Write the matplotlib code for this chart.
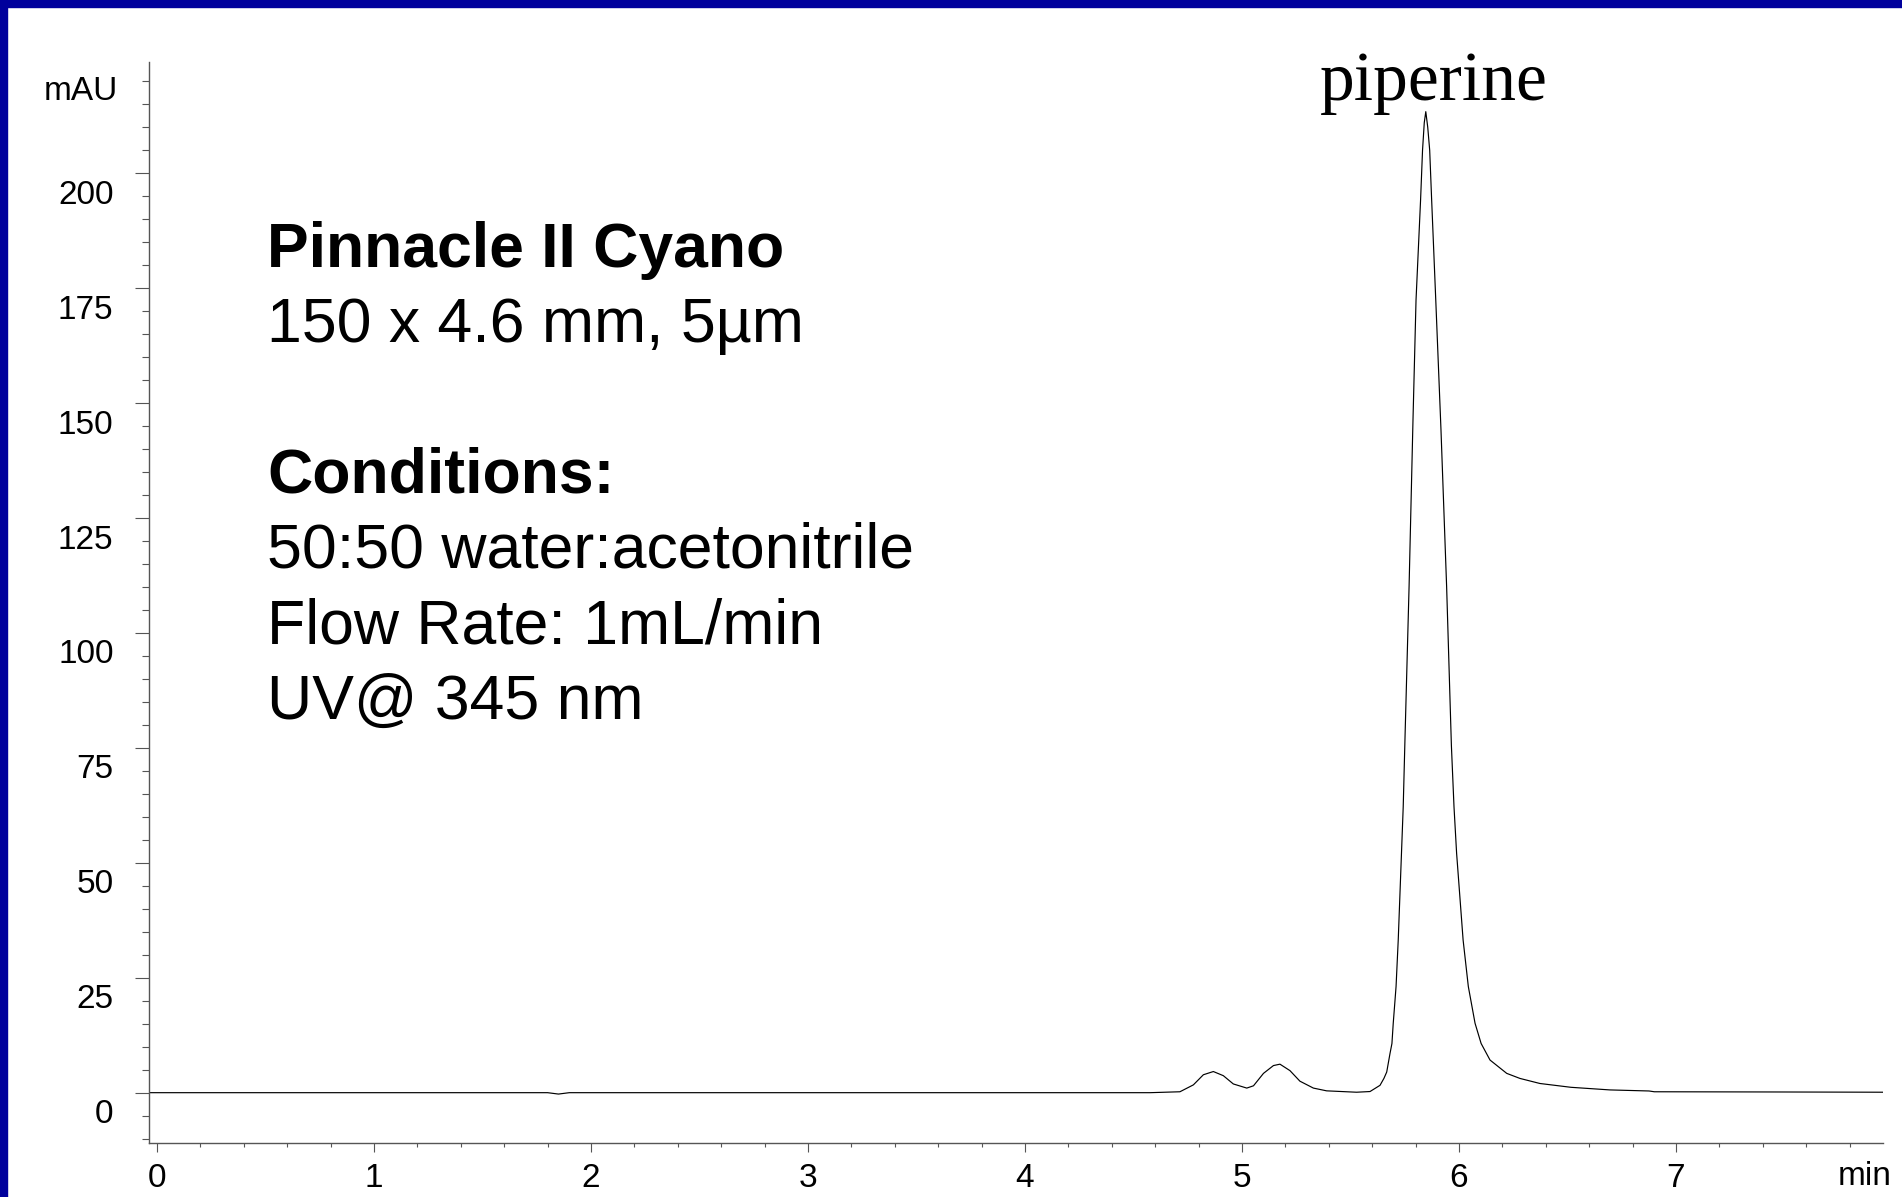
import matplotlib
matplotlib.use('Agg')
import matplotlib.pyplot as plt
from matplotlib.ticker import MultipleLocator
from matplotlib.patches import Rectangle
from matplotlib.transforms import ScaledTranslation

plt.rcParams['font.family'] = 'Liberation Sans'

# chromatogram trace (time in min, signal in mAU)
time_min = [-0.04, 1.00, 1.80, 1.85, 1.90, 3.00, 4.576, 4.714, 4.776, 4.822, 4.868,
            4.914, 4.960, 5.022, 5.053, 5.099, 5.145, 5.175, 5.221, 5.267, 5.329,
            5.390, 5.528, 5.590, 5.636, 5.654, 5.667, 5.682, 5.691, 5.697, 5.705,
            5.710, 5.720, 5.743, 5.751, 5.770, 5.788, 5.802, 5.823, 5.832, 5.840,
            5.847, 5.856, 5.865, 5.874, 5.893, 5.917, 5.943, 5.965, 5.977, 5.989,
            6.019, 6.043, 6.074, 6.102, 6.143, 6.220, 6.281, 6.373, 6.516, 6.696,
            6.876, 6.90, 7.50, 7.954]
signal_mau = [0.0, 0.0, 0.0, -0.3, 0.0, 0.0, 0.0, 0.2, 1.7, 3.9, 4.6,
              3.7, 1.9, 1.0, 1.5, 4.2, 5.9, 6.2, 4.8, 2.5, 1.0,
              0.4, 0.1, 0.25, 1.6, 3.1, 4.5, 8.5, 10.7, 15.1, 20.0,
              23.1, 33.2, 62.2, 76.8, 110.1, 146.3, 172.4, 194.2, 205.0, 211.0,
              213.4, 210.0, 205.0, 194.2, 172.4, 144.2, 110.1, 75.5, 62.2, 52.1,
              33.2, 23.1, 15.1, 10.7, 7.1, 4.2, 3.1, 2.0, 1.17, 0.6,
              0.37, 0.2, 0.15, 0.1]

y_major = [0, 25, 50, 75, 100, 125, 150, 175, 200]
x_major = [0, 1, 2, 3, 4, 5, 6, 7]
peak_name = 'piperine'
info_lines = [('Pinnacle II Cyano', 'bold'), ('150 x 4.6 mm, 5µm', 'normal'),
              ('', 'normal'), ('Conditions:', 'bold'),
              ('50:50 water:acetonitrile', 'normal'), ('Flow Rate: 1mL/min', 'normal'),
              ('UV@ 345 nm', 'normal')]

W, H = 1902, 1197
fig = plt.figure(figsize=(W / 100, H / 100), dpi=100)
ax = fig.add_axes([149 / W, (H - 1142.7) / H, (1883 - 149) / W, (1142.7 - 62) / H])

# blue slide frame (top and left)
fig.add_artist(Rectangle((0, 1 - 7 / H), 1, 7 / H, transform=fig.transFigure,
                         color='#00009c', zorder=10))
fig.add_artist(Rectangle((0, 0), 7 / W, 1, transform=fig.transFigure,
                         color='#00009c', zorder=10))

ax.plot(time_min, signal_mau, color='black', lw=0.85)

ax.set_xlim(-0.0369, 7.954)
ax.set_ylim(-10.88, 224.2)

for s in ['top', 'right']:
    ax.spines[s].set_visible(False)
for s in ['left', 'bottom']:
    ax.spines[s].set_color('#555555')
    ax.spines[s].set_linewidth(1.0)

ax.set_xticks(x_major)
ax.set_xticklabels([str(v) for v in x_major])
ax.xaxis.set_minor_locator(MultipleLocator(0.2))
ax.set_yticks(y_major)
ax.set_yticklabels([str(v) for v in y_major])
ax.yaxis.set_minor_locator(MultipleLocator(5))

ax.tick_params(axis='x', which='major', length=6.5, width=0.8, color='#555555',
               labelsize=24, pad=8)
ax.tick_params(axis='x', which='minor', length=3, width=0.8, color='#555555')
ax.tick_params(axis='y', which='major', length=10, width=0.8, color='#555555',
               labelsize=24, pad=15.5)
ax.tick_params(axis='y', which='minor', length=4.7, width=0.8, color='#555555')

# y labels sit a bit below their ticks in the original
shift = ScaledTranslation(0, -18.5 / 100, fig.dpi_scale_trans)
for lab in ax.get_yticklabels():
    lab.set_transform(lab.get_transform() + shift)

ax.text(-0.0179, 0.9648, 'mAU', transform=ax.transAxes, ha='right', va='baseline',
        fontsize=24)
ax.text(1.0052, -0.0391, 'min', transform=ax.transAxes, ha='right', va='baseline',
        fontsize=24)

# peak label above the apex
i_max = signal_mau.index(max(signal_mau))
ax.text(time_min[i_max] + 0.038, 215.9, peak_name, ha='center', va='baseline',
        fontsize=50, family='Liberation Serif')

# column / conditions block
y0 = 266.7
for k, (line, weight) in enumerate(info_lines):
    if line:
        yb = y0 + k * 75.3
        ax.text((267 - 149) / 1734, (1142.7 - yb) / 1080.7, line, transform=ax.transAxes,
                ha='left', va='baseline', fontsize=45, fontweight=weight)

fig.savefig('out.png', dpi=100)
